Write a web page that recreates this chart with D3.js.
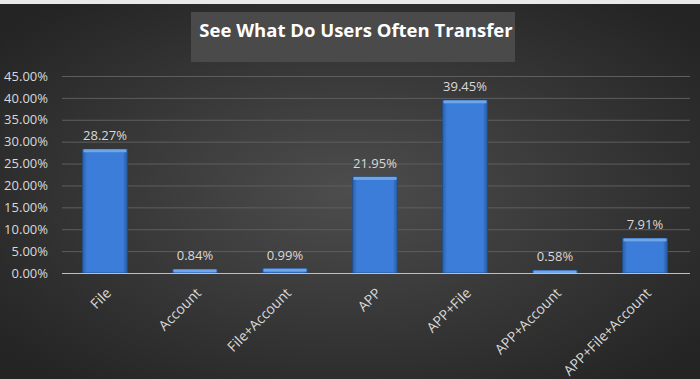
<!DOCTYPE html>
<html>
<head>
<meta charset="utf-8">
<script src="https://cdn.jsdelivr.net/npm/d3@7"></script>
<style>
  body { margin: 0; background: #f2f2f2; }
  svg { display: block; }
  text { font-family: "Open Sans", sans-serif; }
</style>
</head>
<body>
<svg id="chart" width="700" height="379"></svg>
<script>
// values
const categories = ['File', 'Account', 'File+Account', 'APP', 'APP+File', 'APP+Account', 'APP+File+Account'];
const shares = [28.27, 0.84, 0.99, 21.95, 39.45, 0.58, 7.91];
const yTicks = [0, 5, 10, 15, 20, 25, 30, 35, 40, 45];

const svg = d3.select('#chart');
const W = 700, H = 379;
const top0 = 4;

const defs = svg.append('defs');
const bg = defs.append('radialGradient').attr('id', 'bg')
  .attr('cx', '50%').attr('cy', '50%').attr('r', '65%');
bg.append('stop').attr('offset', '0%').attr('stop-color', '#4d4d4d');
bg.append('stop').attr('offset', '100%').attr('stop-color', '#242424');

const barFill = defs.append('linearGradient').attr('id', 'barFill')
  .attr('x1', 0).attr('x2', 1).attr('y1', 0).attr('y2', 0);
barFill.append('stop').attr('offset', '0%').attr('stop-color', '#2a5fa8');
barFill.append('stop').attr('offset', '10%').attr('stop-color', '#3b7dd8');
barFill.append('stop').attr('offset', '90%').attr('stop-color', '#3b7dd8');
barFill.append('stop').attr('offset', '100%').attr('stop-color', '#24589e');

// excel sheet strip on top
svg.append('rect').attr('width', W).attr('height', top0).attr('fill', '#e9e9e9');
svg.append('rect').attr('y', top0).attr('width', W).attr('height', H - top0).attr('fill', 'url(#bg)');

// title box
svg.append('rect').attr('x', 191).attr('y', 12).attr('width', 324).attr('height', 50)
  .attr('fill', '#4a4a4a');
svg.append('text').attr('x', 356).attr('y', 37)
  .attr('text-anchor', 'middle')
  .attr('fill', '#ffffff')
  .attr('font-size', 18.5)
  .attr('font-weight', 'bold')
  .text('See What Do Users Often Transfer');

const x = d3.scaleBand().domain(categories).range([60, 690])
  .paddingInner(0.5).paddingOuter(0.25);
const y = d3.scaleLinear().domain([0, 45]).range([273, 76]);

// gridlines
svg.append('g')
  .attr('transform', 'translate(62,0)')
  .call(d3.axisLeft(y).tickValues(yTicks.slice(1)).tickSize(-628).tickFormat(''))
  .call(g => g.select('.domain').remove())
  .call(g => g.selectAll('line').attr('stroke', '#5e5e5e').attr('stroke-width', 1));

// y labels
svg.append('g')
  .attr('transform', 'translate(62,0)')
  .call(d3.axisLeft(y).tickValues(yTicks).tickSize(0).tickPadding(14)
    .tickFormat(d => d.toFixed(2) + '%'))
  .call(g => g.select('.domain').remove())
  .call(g => g.selectAll('text')
    .attr('fill', '#d9d9d9').attr('font-size', 13)
    .style('font-family', '"Open Sans", sans-serif'));

// bars
const bars = svg.append('g').selectAll('g').data(categories).enter().append('g');
bars.append('rect')
  .attr('x', d => x(d))
  .attr('y', (d, i) => y(shares[i]))
  .attr('width', x.bandwidth())
  .attr('height', (d, i) => y(0) - y(shares[i]))
  .attr('fill', 'url(#barFill)')
  .attr('stroke', '#1f4e8c').attr('stroke-width', 0.8);
bars.append('rect')
  .attr('x', d => x(d) + 1)
  .attr('y', (d, i) => y(shares[i]))
  .attr('width', x.bandwidth() - 2)
  .attr('height', (d, i) => Math.min(3, y(0) - y(shares[i])))
  .attr('fill', '#6fa6ea');

bars.append('text')
  .attr('x', d => x(d) + x.bandwidth() / 2)
  .attr('y', (d, i) => y(shares[i]) - 9)
  .attr('text-anchor', 'middle')
  .attr('fill', '#d9d9d9')
  .attr('font-size', 13)
  .text((d, i) => shares[i].toFixed(2) + '%');

// x axis
svg.append('line').attr('x1', 62).attr('x2', 690).attr('y1', y(0) + 0.5).attr('y2', y(0) + 0.5)
  .attr('stroke', '#bfbfbf').attr('stroke-width', 1);

svg.append('g').selectAll('text').data(categories).enter().append('text')
  .attr('transform', d => `translate(${x(d) + x.bandwidth() / 2 + 7},${y(0) + 21}) rotate(-45)`)
  .attr('text-anchor', 'end')
  .attr('fill', '#d9d9d9')
  .attr('font-size', 14)
  .text(d => d);
</script>
</body>
</html>
